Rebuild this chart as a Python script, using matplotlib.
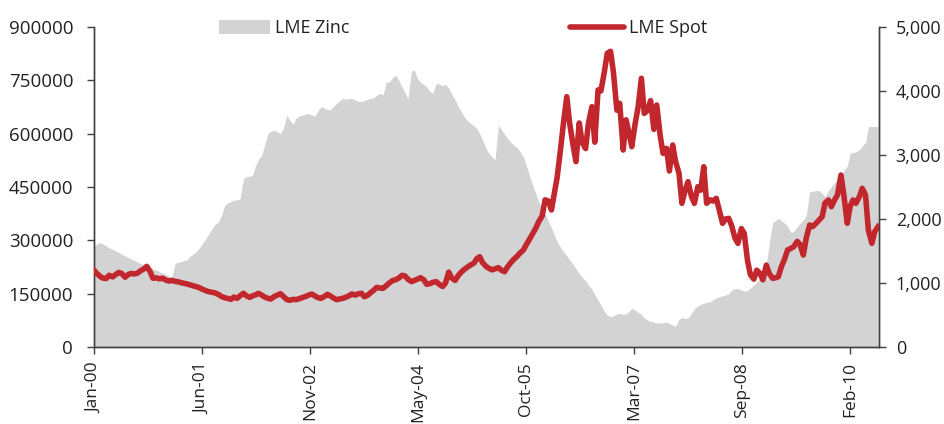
import matplotlib
matplotlib.use("Agg")
import matplotlib.pyplot as plt
from matplotlib.patches import Patch
from matplotlib.lines import Line2D
import pandas as pd
import numpy as np

plt.rcParams['font.family'] = ['Open Sans', 'DejaVu Sans']

# Semi-monthly observation dates (1st and 15th), Jan 2000 - Jul 2010
dates = pd.date_range("2000-01-01", "2010-07-01", freq="SMS")

# LME zinc stocks (tonnes, thousands), left axis
zinc_stocks_k = [
    282, 290, 293, 289, 284, 279, 275, 270, 266, 261,
    256, 252, 248, 244, 239, 235, 231, 227, 223, 220,
    216, 212, 208, 204, 200, 197, 235, 238, 240, 243,
    245, 255, 262, 268, 280, 292, 305, 318, 333, 345,
    352, 370, 398, 405, 410, 413, 414, 416, 474, 479,
    480, 484, 510, 527, 540, 570, 601, 607, 610, 605,
    601, 615, 652, 638, 627, 643, 650, 652, 655, 657,
    652, 649, 665, 676, 672, 668, 667, 675, 685, 692,
    699, 697, 699, 699, 695, 691, 690, 694, 697, 699,
    702, 708, 714, 709, 746, 745, 758, 765, 748, 732,
    715, 697, 775, 780, 755, 745, 738, 732, 718, 714,
    742, 740, 735, 739, 728, 712, 695, 678, 662, 648,
    636, 629, 622, 615, 601, 582, 558, 545, 535, 526,
    624, 612, 598, 587, 575, 568, 560, 549, 535, 510,
    480, 455, 430, 408, 392, 375, 352, 335, 315, 295,
    280, 268, 257, 245, 233, 220, 207, 196, 186, 174,
    162, 148, 132, 118, 100, 90, 85, 88, 93, 95,
    92, 93, 100, 109, 104, 97, 92, 82, 75, 72,
    70, 67, 68, 68, 70, 66, 62, 58, 78, 83,
    80, 82, 95, 108, 115, 120, 123, 126, 127, 133,
    138, 141, 144, 146, 150, 160, 164, 165, 160, 157,
    159, 166, 174, 183, 193, 202, 235, 290, 350, 356,
    362, 355, 348, 340, 322, 325, 338, 348, 358, 368,
    437, 438, 440, 440, 432, 423, 440, 451, 462, 472,
    480, 495, 510, 545, 547, 549, 555, 565, 575, 620,
    620, 620, 620,
]

# LME zinc spot price (USD/t), right axis
lme_spot = [
    1200, 1150, 1099, 1075, 1070, 1120, 1095, 1130, 1165, 1150,
    1090, 1130, 1150, 1140, 1155, 1190, 1220, 1260, 1180, 1075,
    1080, 1065, 1075, 1050, 1030, 1040, 1025, 1020, 1005, 995,
    984, 970, 955, 943, 925, 900, 880, 865, 855, 845,
    820, 790, 770, 760, 745, 780, 760, 800, 839, 800,
    776, 800, 815, 839, 810, 780, 760, 750, 790, 810,
    833, 790, 740, 730, 745, 740, 755, 770, 790, 810,
    828, 800, 770, 760, 790, 823, 800, 770, 740, 750,
    760, 776, 800, 828, 810, 830, 839, 786, 810, 850,
    890, 932, 920, 917, 960, 1000, 1040, 1050, 1080, 1120,
    1110, 1060, 1021, 1040, 1060, 1083, 1050, 980, 990, 1010,
    1021, 980, 945, 1000, 1170, 1080, 1040, 1110, 1170, 1210,
    1250, 1280, 1310, 1380, 1411, 1320, 1260, 1230, 1205, 1220,
    1240, 1200, 1177, 1250, 1320, 1370, 1420, 1470, 1516, 1600,
    1690, 1770, 1860, 1960, 2050, 2300, 2280, 2141, 2400, 2650,
    3100, 3500, 3911, 3500, 3150, 2896, 3500, 3200, 3100, 3495,
    3755, 3200, 4016, 4000, 4300, 4589, 4620, 4300, 3700, 3807,
    3078, 3550, 3350, 3130, 3500, 3750, 4198, 3650, 3700, 3850,
    3400, 3781, 3300, 3026, 3104, 2750, 3156, 2900, 2714, 2245,
    2450, 2583, 2350, 2245, 2505, 2450, 2817, 2245, 2300, 2280,
    2323, 2150, 1932, 2000, 2010, 1900, 1700, 1620, 1850, 1776,
    1350, 1130, 1060, 1200, 1150, 1050, 1280, 1150, 1073, 1080,
    1099, 1250, 1380, 1516, 1540, 1568, 1650, 1600, 1437, 1700,
    1906, 1880, 1932, 1980, 2036, 2250, 2297, 2192, 2300, 2375,
    2687, 2375, 1932, 2200, 2297, 2245, 2350, 2479, 2375, 1828,
    1620, 1802, 1880,
]

left_ticks = [0, 150000, 300000, 450000, 600000, 750000, 900000]
right_ticks = [0, 1000, 2000, 3000, 4000, 5000]
x_tick_labels = ["Jan-00", "Jun-01", "Nov-02", "May-04", "Oct-05", "Mar-07", "Sep-08", "Feb-10"]

series_labels = ["LME Zinc", "LME Spot"]

GREY = "#d3d3d3"
RED = "#c1272d"
AXC = "#404040"
TXT = "#222222"
FS = 13

fig = plt.figure(figsize=(9.45, 4.24), dpi=100)
ax = fig.add_axes([94/945, 1 - 347/424, (879 - 94)/945, (347 - 27)/424])
ax2 = ax.twinx()

stocks = np.array(zinc_stocks_k) * 1000
ax.fill_between(dates, 0, stocks, color=GREY, linewidth=0, zorder=1)
ax2.plot(dates, lme_spot, color=RED, linewidth=4.0, solid_joinstyle="round", zorder=3)

start = pd.Timestamp("2000-01-01")
xticks = [start + pd.Timedelta(days=528 * k) for k in range(len(x_tick_labels))]
ax.set_xlim(start, start + pd.Timedelta(days=3839))
ax.set_xticks(xticks)
ax.set_xticklabels(x_tick_labels, rotation=90, fontsize=FS - 0.5, color=TXT)

ax.set_ylim(0, 900000)
ax.set_yticks(left_ticks)
ax.set_yticklabels([str(v) for v in left_ticks], fontsize=FS + 0.5, color=TXT)
ax2.set_ylim(0, 5000)
ax2.set_yticks(right_ticks)
ax2.set_yticklabels([f"{v:,}" for v in right_ticks], fontsize=FS, color=TXT)

for a in (ax, ax2):
    a.spines["top"].set_visible(False)
    for s in ("left", "right", "bottom"):
        a.spines[s].set_color(AXC)
        a.spines[s].set_linewidth(1.0)
    a.tick_params(axis="both", direction="out", length=5, width=1, color=AXC)
ax.tick_params(axis="x", pad=6)
ax.tick_params(axis="y", pad=10)
ax2.tick_params(axis="y", pad=7)
ax.patch.set_visible(False)
ax.set_zorder(1)
ax2.set_zorder(2)

h1 = Patch(facecolor=GREY, edgecolor="none")
h2 = Line2D([0], [0], color=RED, linewidth=4.0, solid_capstyle="round")
leg1 = fig.legend([h1], [series_labels[0]], loc="center left",
                  bbox_to_anchor=(219/945, 1 - 28/424), frameon=False,
                  fontsize=FS, handlelength=2.8, handleheight=0.8,
                  handletextpad=0.3, borderpad=0, borderaxespad=0)
leg2 = fig.legend([h2], [series_labels[1]], loc="center left",
                  bbox_to_anchor=(570/945, 1 - 28/424), frameon=False,
                  fontsize=FS, handlelength=3.0, handletextpad=0.25,
                  borderpad=0, borderaxespad=0)
for lg in (leg1, leg2):
    for t in lg.get_texts():
        t.set_color(TXT)

fig.savefig("out.png", dpi=100)
